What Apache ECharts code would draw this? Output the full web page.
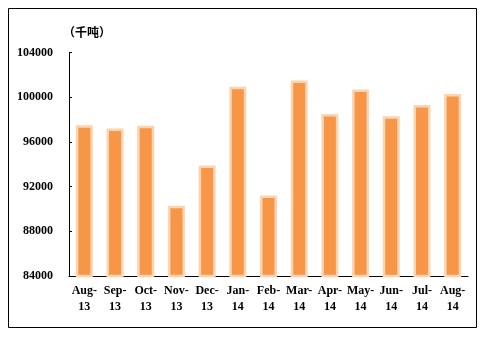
<!DOCTYPE html>
<html>
<head>
<meta charset="utf-8">
<script src="https://cdn.jsdelivr.net/npm/echarts@6/dist/echarts.min.js"></script>
<style>
  html, body { margin: 0; padding: 0; background: #fff; }
  #chart { width: 490px; height: 337px; }
</style>
</head>
<body>
<div id="chart"></div>
<script>
// Monthly volume, thousand tonnes
const months = ['Aug-\n13', 'Sep-\n13', 'Oct-\n13', 'Nov-\n13', 'Dec-\n13', 'Jan-\n14',
                'Feb-\n14', 'Mar-\n14', 'Apr-\n14', 'May-\n14', 'Jun-\n14', 'Jul-\n14', 'Aug-\n14'];
const volume = [97500, 97200, 97450, 90300, 93900, 100950, 91200, 101500, 98500, 100700, 98300, 99300, 100300];
const unitLabel = '（千吨）';

const chart = echarts.init(document.getElementById('chart'), null, { renderer: 'canvas' });
const labelFont = "'Liberation Serif', 'DejaVu Serif', serif";

chart.setOption({
  animation: false,
  backgroundColor: '#ffffff',
  graphic: [
    {
      type: 'rect',
      shape: { x: 8.5, y: 8.5, width: 468, height: 319 },
      style: { fill: 'none', stroke: '#000', lineWidth: 1 },
      z: -1
    },
    {
      type: 'text',
      left: 63,
      top: 26,
      style: {
        text: unitLabel,
        font: "bold 12px 'Noto Sans CJK SC', sans-serif",
        fill: '#000'
      }
    }
  ],
  grid: { left: 69, right: 22, top: 52.6, bottom: 61, containLabel: false },
  xAxis: {
    type: 'category',
    data: months,
    axisLine: { lineStyle: { color: '#000', width: 1 } },
    axisTick: { show: false },
    axisLabel: {
      color: '#000',
      fontFamily: labelFont,
      fontWeight: 'bold',
      fontSize: 12,
      lineHeight: 16,
      margin: 7,
      interval: 0
    }
  },
  yAxis: {
    type: 'value',
    min: 84000,
    max: 104000,
    interval: 4000,
    axisLine: { show: true, lineStyle: { color: '#000', width: 1 } },
    axisTick: { show: true, inside: true, length: 3, lineStyle: { color: '#000' } },
    splitLine: { show: false },
    axisLabel: {
      color: '#000',
      fontFamily: labelFont,
      fontWeight: 'bold',
      fontSize: 12,
      margin: 16,
      formatter: v => String(v)
    }
  },
  series: [{
    type: 'bar',
    data: volume,
    barWidth: 17,
    itemStyle: {
      color: '#F79646',
      borderColor: '#FBD4B2',
      borderWidth: 2.5
    }
  }]
});
</script>
</body>
</html>
